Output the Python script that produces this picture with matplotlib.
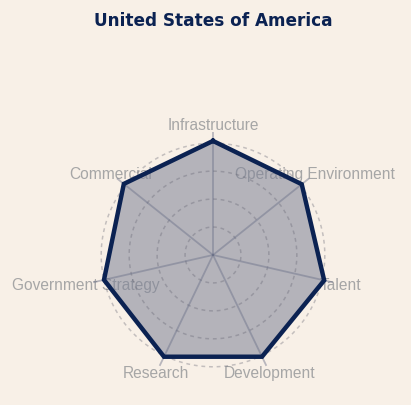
import numpy as np
import matplotlib
matplotlib.use("Agg")
import matplotlib.pyplot as plt

# data
categories = ["Infrastructure", "Operating Environment", "Talent", "Development",
              "Research", "Government Strategy", "Commercial"]
values = [102, 101.5, 102, 101, 101, 100, 102]
title = "United States of America"

bg = "#f8f0e7"
navy = "#0b2252"

fig = plt.figure(figsize=(4.11, 4.06), dpi=100, facecolor=bg)
ax = fig.add_axes([0.219, 0.0665, 0.5985, 0.606], projection="polar")
ax.set_facecolor("none")
ax.set_theta_offset(np.pi / 2)
ax.set_theta_direction(-1)

n = len(categories)
angles = np.linspace(0, 2 * np.pi, n, endpoint=False)
ang_closed = np.append(angles, angles[0])
val_closed = np.append(values, values[0])

ax.set_ylim(0, 110)
ax.spines["polar"].set_visible(False)
ax.grid(False)
ax.set_xticks([])
ax.set_yticks([])

# labels (under the fill)
for a, lab in zip(angles, categories):
    ax.text(a, 117, lab, ha="center", va="center", fontsize=11.2,
            color="#a6a6a6", family="Liberation Sans", zorder=1)

ax.fill(ang_closed, val_closed, color="#7d8296", alpha=0.55, zorder=2, lw=0)

# dashed rings
t = np.linspace(0, 2 * np.pi, 300)
for r in [25, 50, 75, 100]:
    ax.plot(t, np.full_like(t, r), color="#626270", alpha=0.35, lw=1.1,
            ls=(0, (2.5, 2.5)), zorder=3)

# spokes
for a in angles:
    ax.plot([a, a], [0, 110], color="#6a7088", alpha=0.45, lw=1.3, zorder=3)

ax.plot(ang_closed, val_closed, color=navy, lw=3.2, zorder=4, solid_joinstyle="miter")

fig.text(0.52, 0.948, title, ha="center", va="center", fontsize=12.2,
         fontweight="bold", color=navy)

fig.savefig("out.png", dpi=100, facecolor=bg)
